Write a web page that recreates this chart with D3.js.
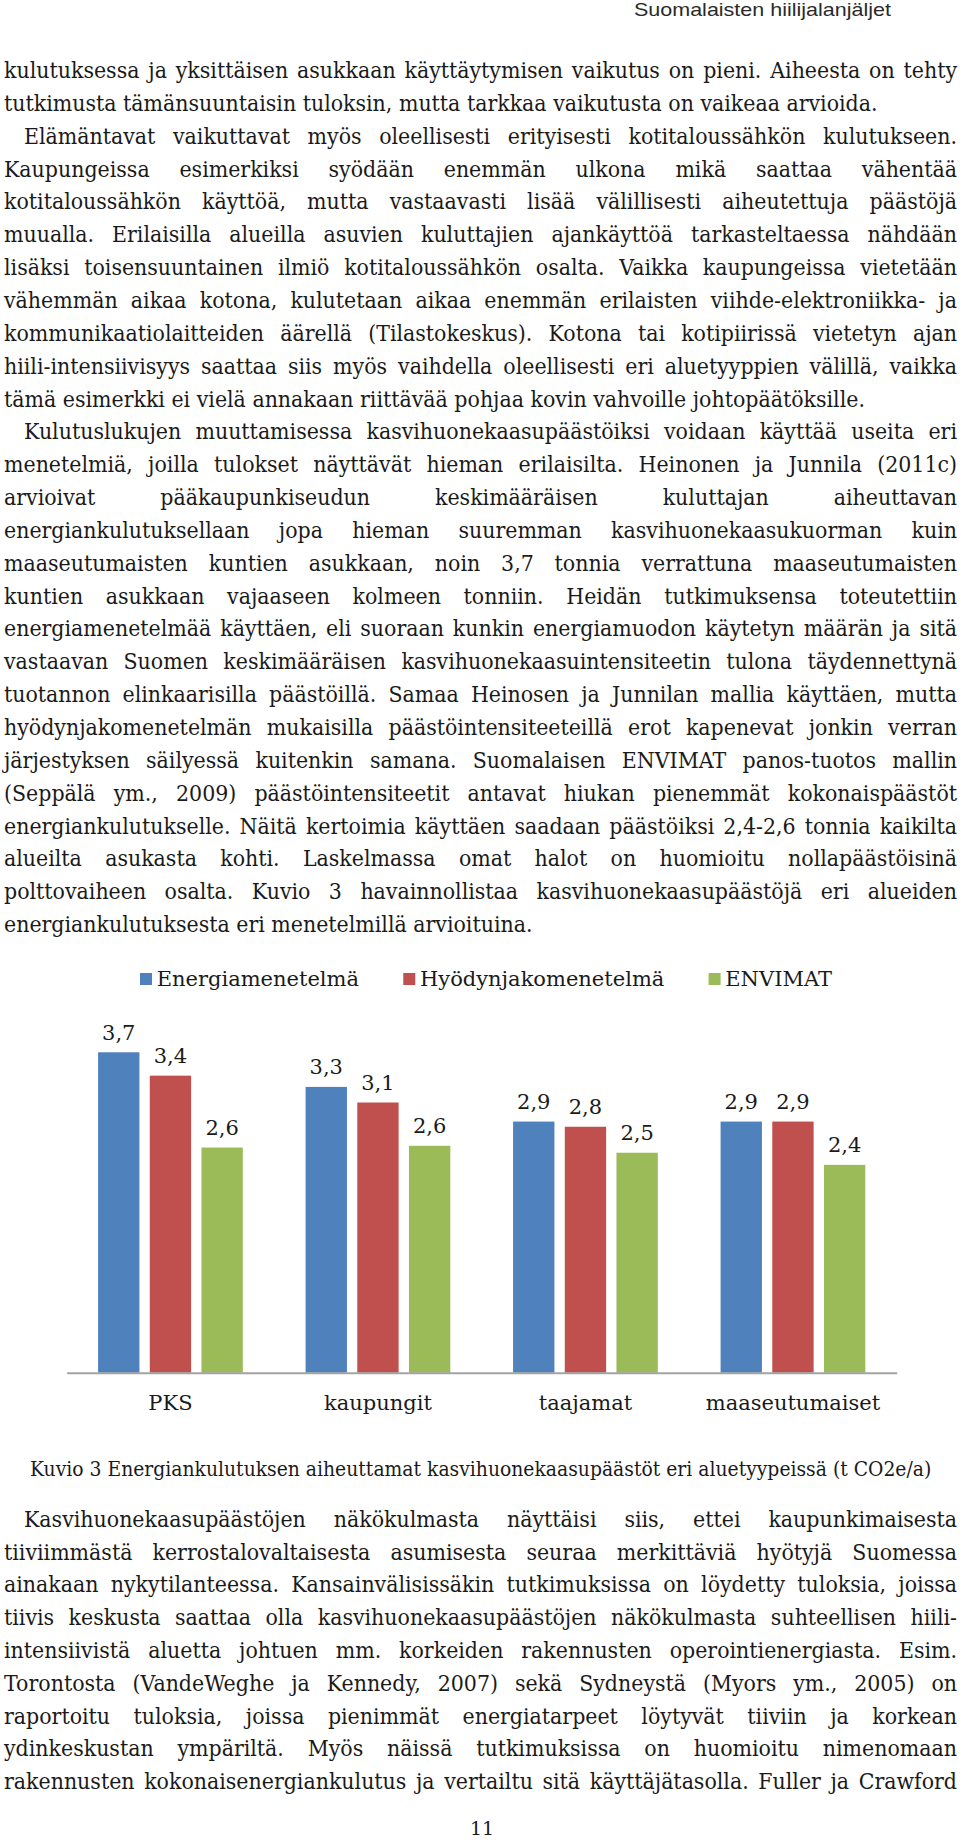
<!DOCTYPE html>
<html>
<head>
<meta charset="utf-8">
<script src="https://cdn.jsdelivr.net/npm/d3@7"></script>
<style>
  html, body { margin: 0; padding: 0; background: #fff; }
  svg { display: block; }
</style>
</head>
<body>
<svg id="page" width="960" height="1843"></svg>
<script>
// ---- chart data ----
const categories = ["PKS", "kaupungit", "taajamat", "maaseutumaiset"];
const seriesNames = ["Energiamenetelmä", "Hyödynjakomenetelmä", "ENVIMAT"];
const energiamenetelma = [3.70, 3.30, 2.90, 2.90];
const hyodynjakomenetelma = [3.43, 3.12, 2.84, 2.90];
const envimat = [2.60, 2.62, 2.54, 2.40];
const seriesColors = ["#4f81bd", "#c0504d", "#9bbb59"];

// ---- page text ----
const headerText = "Suomalaisten hiilijalanjäljet";
const captionText = "Kuvio 3 Energiankulutuksen aiheuttamat kasvihuonekaasupäästöt eri aluetyypeissä (t CO2e/a)";
const pageNumber = "11";

const para1 = [
  "kulutuksessa ja yksittäisen asukkaan käyttäytymisen vaikutus on pieni. Aiheesta on tehty",
  "tutkimusta tämänsuuntaisin tuloksin, mutta tarkkaa vaikutusta on vaikeaa arvioida."
];
const para2 = [
  "Elämäntavat vaikuttavat myös oleellisesti erityisesti kotitaloussähkön kulutukseen.",
  "Kaupungeissa esimerkiksi syödään enemmän ulkona mikä saattaa vähentää",
  "kotitaloussähkön käyttöä, mutta vastaavasti lisää välillisesti aiheutettuja päästöjä",
  "muualla. Erilaisilla alueilla asuvien kuluttajien ajankäyttöä tarkasteltaessa nähdään",
  "lisäksi toisensuuntainen ilmiö kotitaloussähkön osalta. Vaikka kaupungeissa vietetään",
  "vähemmän aikaa kotona, kulutetaan aikaa enemmän erilaisten viihde-elektroniikka- ja",
  "kommunikaatiolaitteiden äärellä (Tilastokeskus). Kotona tai kotipiirissä vietetyn ajan",
  "hiili-intensiivisyys saattaa siis myös vaihdella oleellisesti eri aluetyyppien välillä, vaikka",
  "tämä esimerkki ei vielä annakaan riittävää pohjaa kovin vahvoille johtopäätöksille."
];
const para3 = [
  "Kulutuslukujen muuttamisessa kasvihuonekaasupäästöiksi voidaan käyttää useita eri",
  "menetelmiä, joilla tulokset näyttävät hieman erilaisilta. Heinonen ja Junnila (2011c)",
  "arvioivat pääkaupunkiseudun keskimääräisen kuluttajan aiheuttavan",
  "energiankulutuksellaan jopa hieman suuremman kasvihuonekaasukuorman kuin",
  "maaseutumaisten kuntien asukkaan, noin 3,7 tonnia verrattuna maaseutumaisten",
  "kuntien asukkaan vajaaseen kolmeen tonniin. Heidän tutkimuksensa toteutettiin",
  "energiamenetelmää käyttäen, eli suoraan kunkin energiamuodon käytetyn määrän ja sitä",
  "vastaavan Suomen keskimääräisen kasvihuonekaasuintensiteetin tulona täydennettynä",
  "tuotannon elinkaarisilla päästöillä. Samaa Heinosen ja Junnilan mallia käyttäen, mutta",
  "hyödynjakomenetelmän mukaisilla päästöintensiteeteillä erot kapenevat jonkin verran",
  "järjestyksen säilyessä kuitenkin samana. Suomalaisen ENVIMAT panos-tuotos mallin",
  "(Seppälä ym., 2009) päästöintensiteetit antavat hiukan pienemmät kokonaispäästöt",
  "energiankulutukselle. Näitä kertoimia käyttäen saadaan päästöiksi 2,4-2,6 tonnia kaikilta",
  "alueilta asukasta kohti. Laskelmassa omat halot on huomioitu nollapäästöisinä",
  "polttovaiheen osalta. Kuvio 3 havainnollistaa kasvihuonekaasupäästöjä eri alueiden",
  "energiankulutuksesta eri menetelmillä arvioituina."
];
const para4 = [
  "Kasvihuonekaasupäästöjen näkökulmasta näyttäisi siis, ettei kaupunkimaisesta",
  "tiiviimmästä kerrostalovaltaisesta asumisesta seuraa merkittäviä hyötyjä Suomessa",
  "ainakaan nykytilanteessa. Kansainvälisissäkin tutkimuksissa on löydetty tuloksia, joissa",
  "tiivis keskusta saattaa olla kasvihuonekaasupäästöjen näkökulmasta suhteellisen hiili-",
  "intensiivistä aluetta johtuen mm. korkeiden rakennusten operointienergiasta. Esim.",
  "Torontosta (VandeWeghe ja Kennedy, 2007) sekä Sydneystä (Myors ym., 2005) on",
  "raportoitu tuloksia, joissa pienimmät energiatarpeet löytyvät tiiviin ja korkean",
  "ydinkeskustan ympäriltä. Myös näissä tutkimuksissa on huomioitu nimenomaan",
  "rakennusten kokonaisenergiankulutus ja vertailtu sitä käyttäjätasolla. Fuller ja Crawford"
];

const svg = d3.select("#page");
const serif = "'DejaVu Serif', Georgia, serif";
const ink = "#1a1a1a";

function measure(str, size, family) {
  const t = svg.append("text").attr("font-family", family).attr("font-size", size).text(str);
  const w = t.node().getComputedTextLength();
  t.remove();
  return w;
}

// ---- header ----
const hw = measure(headerText, 19, "'Liberation Sans', Arial, sans-serif");
svg.append("text")
  .attr("transform", `translate(634,16) scale(${257 / hw},1)`)
  .attr("font-family", "'Liberation Sans', Arial, sans-serif")
  .attr("font-size", 19)
  .attr("fill", "#2a2a2a")
  .text(headerText);

// ---- body text (justified) ----
const FS = 21.5, LEFT = 4, RIGHT = 957, INDENT = 20;
// squeeze DejaVu a little so the unjustified last lines end where they do on the page
const sx = (858 + 872 + 535) /
  (measure(para1[1], FS, serif) + measure(para2[8], FS, serif) + measure(para3[15], FS, serif));

function drawParagraph(lines, y0, lh, indent, justifyLast) {
  lines.forEach((line, i) => {
    const x = LEFT + (i === 0 && indent ? INDENT : 0);
    const y = y0 + i * lh;
    const t = svg.append("text")
      .attr("transform", `translate(${x},${y}) scale(${sx},1)`)
      .attr("font-family", serif)
      .attr("font-size", FS)
      .attr("fill", ink)
      .text(line);
    const last = i === lines.length - 1;
    if (!last || justifyLast) {
      const w = t.node().getComputedTextLength();
      const n = (line.match(/ /g) || []).length;
      if (n > 0) t.style("word-spacing", (((RIGHT - x) / sx - w) / n) + "px");
    }
  });
}

const LH = 32.85;
drawParagraph(para1, 78, LH, false, false);
drawParagraph(para2, 78 + 2 * LH, LH, true, false);
drawParagraph(para3, 78 + 11 * LH, LH, true, false);
drawParagraph(para4, 1526.7, 32.8, true, true);

// ---- chart ----
const baseY = 1372.7;
const y = d3.scaleLinear().domain([0, 4]).range([baseY, baseY - 4 * 86.6]);
const x0 = d3.scaleBand().domain(categories).range([66.7, 896.7]).padding(0);
const x1 = d3.scaleBand().domain(seriesNames).range([0, x0.bandwidth()])
  .paddingInner(0.2).paddingOuter(0.607);

const values = [energiamenetelma, hyodynjakomenetelma, envimat];
const rows = categories.map((c, ci) => ({
  cat: c,
  items: seriesNames.map((s, si) => ({ series: s, si, value: values[si][ci] }))
}));
const fmt = v => d3.format(".1f")(v).replace(".", ",");

const chart = svg.append("g");
const groups = chart.selectAll("g.grp").data(rows).join("g")
  .attr("class", "grp")
  .attr("transform", d => `translate(${x0(d.cat)},0)`);

groups.selectAll("rect").data(d => d.items).join("rect")
  .attr("x", d => x1(d.series))
  .attr("y", d => y(d.value))
  .attr("width", x1.bandwidth())
  .attr("height", d => baseY - y(d.value))
  .attr("fill", d => seriesColors[d.si]);

groups.selectAll("text.val").data(d => d.items).join("text")
  .attr("class", "val")
  .attr("x", d => x1(d.series) + x1.bandwidth() / 2)
  .attr("y", d => y(d.value) - 12.7)
  .attr("text-anchor", "middle")
  .attr("font-family", serif)
  .attr("font-size", 21)
  .attr("fill", ink)
  .text(d => fmt(d.value));

const xAxis = chart.append("g")
  .attr("transform", `translate(0,${baseY})`)
  .call(d3.axisBottom(x0).tickSize(0).tickSizeOuter(0));
xAxis.select(".domain").attr("stroke", "#a3a3a3").attr("stroke-width", 2);
xAxis.selectAll(".tick text")
  .attr("y", 37.3).attr("dy", 0)
  .attr("font-family", serif)
  .attr("font-size", 21)
  .attr("fill", ink);

// legend: items laid out from 140 to 832, gaps shared evenly
const legendFS = 21;
const legendW = seriesNames.map(s => measure(s, legendFS, serif));
const itemW = legendW.map(w => 12 + 4.7 + w);
const gap = (832 - 140 - d3.sum(itemW)) / (seriesNames.length - 1);
let lx = 140;
const legendX = itemW.map(w => { const p = lx; lx += w + gap; return p; });
const legend = chart.append("g").selectAll("g").data(seriesNames).join("g")
  .attr("transform", (d, i) => `translate(${legendX[i]},973)`);
legend.append("rect").attr("width", 12).attr("height", 12)
  .attr("fill", (d, i) => seriesColors[i]);
legend.append("text").attr("x", 16.7).attr("y", 13)
  .attr("font-family", serif).attr("font-size", legendFS).attr("fill", ink)
  .text(d => d);

// ---- caption and page number ----
const cw = measure(captionText, 20.5, serif);
svg.append("text")
  .attr("transform", `translate(${481 - 902 / 2},1476) scale(${902 / cw},1)`)
  .attr("font-family", serif).attr("font-size", 20.5).attr("fill", ink)
  .text(captionText);

svg.append("text")
  .attr("x", 482).attr("y", 1835)
  .attr("text-anchor", "middle")
  .attr("font-family", serif).attr("font-size", 19).attr("fill", ink)
  .text(pageNumber);
</script>
</body>
</html>
